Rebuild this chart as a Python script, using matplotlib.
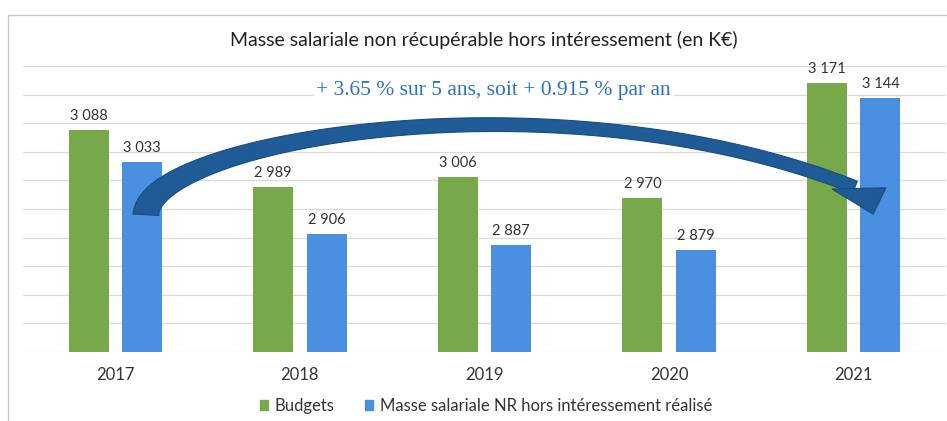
import numpy as np
import matplotlib.pyplot as plt
from matplotlib.patches import Rectangle, Patch, Polygon
from matplotlib.transforms import IdentityTransform

years = ["2017", "2018", "2019", "2020", "2021"]
budgets = [3088, 2989, 3006, 2970, 3171]
realise = [3033, 2906, 2887, 2879, 3144]

title = "Masse salariale non récupérable hors intéressement (en K€)"
note = "+ 3.65 % sur 5 ans, soit + 0.915 % par an"
leg_labels = ["Budgets", "Masse salariale NR hors intéressement réalisé"]

green = "#77a94a"
blue = "#4b8fe0"
dark = "#333333"

plt.rcParams['font.family'] = ['Lato', 'DejaVu Sans']

W, H = 947, 421
fig = plt.figure(figsize=(W / 100, H / 100), dpi=100)
ax = fig.add_axes([23 / W, (H - 352) / H, 923 / W, (352 - 66) / H])

x = np.arange(len(years))
bw = 0.217
off = 0.145
b1 = ax.bar(x - off, budgets, bw, color=green, zorder=2)
b2 = ax.bar(x + off, realise, bw, color=blue, zorder=2)

def fmt(v):
    return "{:,}".format(v).replace(",", " ")

for bars, vals in ((b1, budgets), (b2, realise)):
    for r, v in zip(bars, vals):
        ax.annotate(fmt(v), (r.get_x() + r.get_width() / 2, v), xytext=(0, 5),
                    textcoords="offset points", ha="center", va="bottom",
                    fontsize=10.5, color=dark, zorder=3)

ax.set_ylim(2700, 3200)
ax.set_xlim(-0.5, len(years) - 0.5)
ax.set_yticks(np.arange(2700, 3201, 50))
ax.yaxis.grid(True, color="#dadada", lw=0.9, zorder=0)
ax.tick_params(axis="y", left=False, labelleft=False)
ax.tick_params(axis="x", length=0, pad=11, labelsize=12, labelcolor=dark)
ax.set_xticks(x)
ax.set_xticklabels(years)
for s in ax.spines.values():
    s.set_visible(False)

# curved arrow (cubic bezier centre line, data coords)
ctrl = [(0.166, 2940), (0.188, 3071), (2.409, 3193), (4.007, 2988)]
head = [(3.882, 2985), (4.105, 2941), (4.175, 2987)]
w0, w1 = 26, 13  # tail thickness in pixels, start / end

P = ax.transData.transform(ctrl)
t = np.linspace(0, 1, 100)[:, None]
pts = ((1 - t) ** 3 * P[0] + 3 * (1 - t) ** 2 * t * P[1]
       + 3 * (1 - t) * t ** 2 * P[2] + t ** 3 * P[3])
d = (3 * (1 - t) ** 2 * (P[1] - P[0]) + 6 * (1 - t) * t * (P[2] - P[1])
     + 3 * t ** 2 * (P[3] - P[2]))
d = d / np.linalg.norm(d, axis=1)[:, None]
nrm = np.column_stack([-d[:, 1], d[:, 0]])
hw = (w1 + (w0 - w1) * (1 - t) ** 3) / 2
tail = np.vstack([pts + nrm * hw, (pts - nrm * hw)[::-1]])
ax.add_patch(Polygon(tail, closed=True, transform=IdentityTransform(),
                     fc="#1f5b96", ec="#184c80", lw=0.8, zorder=4))
ax.add_patch(Polygon(ax.transData.transform(head), closed=True, transform=IdentityTransform(),
                     fc="#1f5b96", ec="#184c80", lw=0.8, zorder=4))

ax.text(2.05, 3158, note, ha="center", va="center", fontsize=15.5,
        family="Liberation Serif", color="#2a72c8", zorder=5,
        bbox=dict(fc="white", ec="none", pad=2))

fig.text(484 / W, 1 - 40 / H, title, ha="center", va="center",
         fontsize=14, color="#222222")

handles = [Patch(color=green), Patch(color=blue)]
fig.legend(handles, leg_labels, loc="center", bbox_to_anchor=(486 / W, 1 - 406 / H),
           ncol=2, frameon=False, fontsize=12, handlelength=0.5, handleheight=0.5,
           handletextpad=0.4, columnspacing=1.8, labelcolor=dark)

fig.patches.append(Rectangle((8 / W, -0.1), 1.0, 1.1 - 15 / H, transform=fig.transFigure,
                             fill=False, ec="#c8c8c8", lw=1, figure=fig))

fig.savefig("out.png", dpi=100)
